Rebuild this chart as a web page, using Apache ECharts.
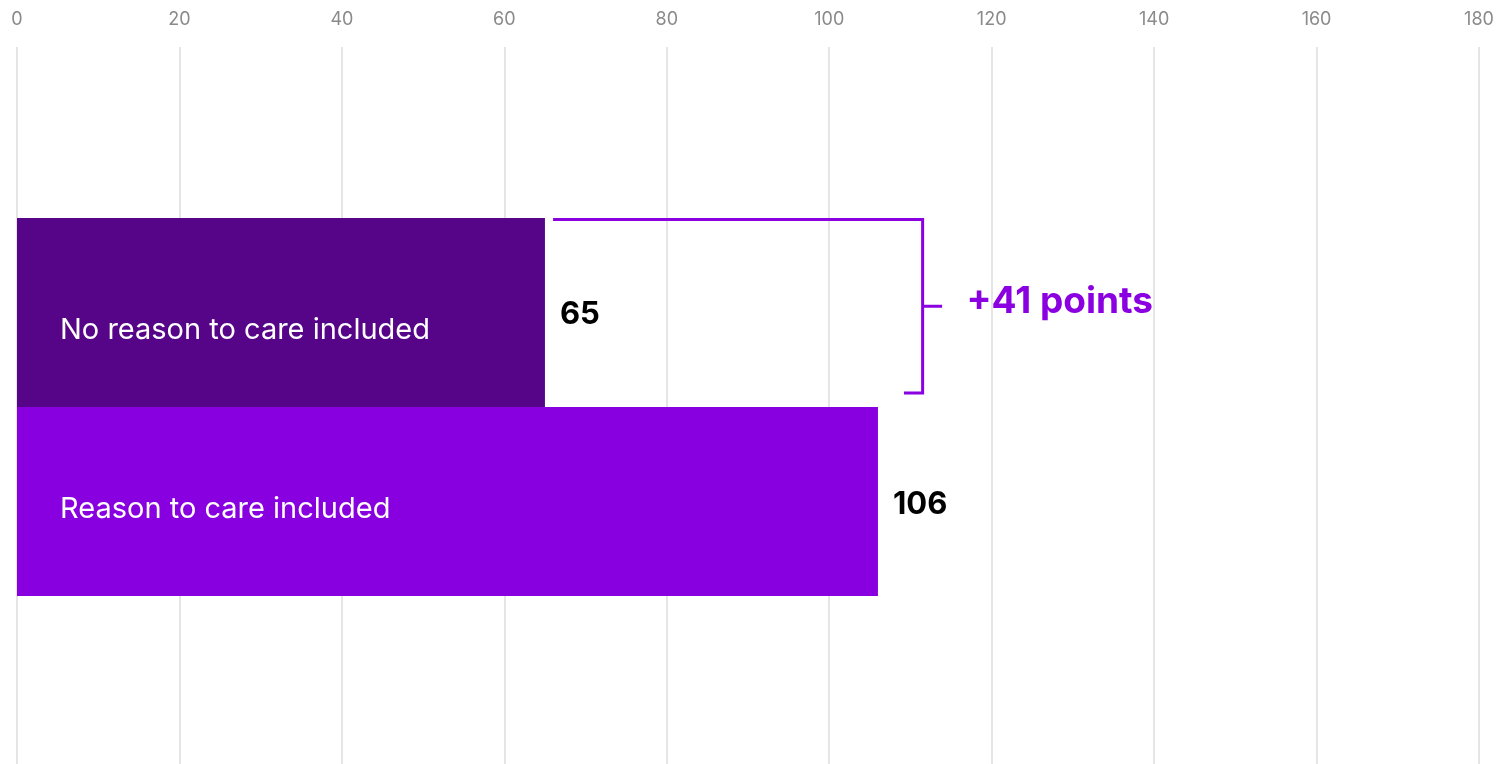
<!DOCTYPE html>
<html>
<head>
<meta charset="utf-8">
<script src="https://cdn.jsdelivr.net/npm/echarts@6/dist/echarts.min.js"></script>
<style>
html,body{margin:0;padding:0;background:#fff;}
#chart{width:1499px;height:764px;}
</style>
</head>
<body>
<div id="chart"></div>
<script>
const categories = ['No reason to care included', 'Reason to care included'];
const values = [65, 106];
const xTicks = [0, 20, 40, 60, 80, 100, 120, 140, 160, 180];
const barColors = ['#560488', '#8800E0'];
const accent = '#8A00E0';
const FONT = 'Inter, "Noto Sans", sans-serif';

const chart = echarts.init(document.getElementById('chart'));
const labelOffsets = [18, 8];
const valueOffsets = [2, 3];

const yCat = {
  type: 'category',
  data: ['group'],
  show: false,
  inverse: true
};

const option = {
  animation: false,
  backgroundColor: '#fff',
  grid: { left: 17, right: 20, top: 47, bottom: -3, containLabel: false, outerBoundsMode: 'none' },
  xAxis: {
    type: 'value',
    position: 'top',
    min: xTicks[0],
    max: xTicks[xTicks.length - 1],
    interval: xTicks[1] - xTicks[0],
    axisLine: { show: false },
    axisTick: { show: false },
    axisLabel: { color: '#8a8a8a', fontSize: 18, fontFamily: FONT, margin: 18 },
    splitLine: { show: true, lineStyle: { color: '#dcdcdc', width: 1.5 } }
  },
  yAxis: [Object.assign({}, yCat), Object.assign({}, yCat)],
  series: categories.map((name, i) => ({
    type: 'bar',
    name: name,
    yAxisIndex: 0,
    data: [values[i]],
    barWidth: 189,
    barGap: '0%',
    itemStyle: { color: barColors[i] },
    label: {
      show: true,
      position: 'insideLeft',
      distance: 43,
      offset: [0, labelOffsets[i]],
      formatter: name,
      color: '#fff',
      fontSize: 29,
      fontFamily: FONT,
      fontWeight: 400
    },
    z: 2
  })).concat(categories.map((name, i) => ({
    type: 'bar',
    name: name + ' value',
    yAxisIndex: 1,
    data: [values[i]],
    barWidth: 189,
    barGap: '0%',
    itemStyle: { color: 'rgba(0,0,0,0)' },
    label: {
      show: true,
      position: 'right',
      distance: 15,
      offset: [0, valueOffsets[i]],
      color: '#000',
      fontSize: 31,
      fontFamily: FONT,
      fontWeight: 700
    },
    silent: true,
    z: 3
  })))
};
chart.setOption(option);

function drawBracket() {
  const l0 = chart.getModel().getSeriesByIndex(0).getData().getItemLayout(0);
  const yTop = Math.min(l0.y, l0.y + l0.height) + 1.5;
  const yBot = Math.max(l0.y, l0.y + l0.height) - 14;
  const yMid = (yTop + yBot) / 2;
  const px = v => chart.convertToPixel({ xAxisIndex: 0 }, v);
  const xStart = px(values[0] + 1);
  const xV = px(values[1] + 5.5);
  const xBotStart = px(values[1] + 3.2);
  const xTick = px(values[1] + 7.9);
  const xText = px(values[1] + 10.9);
  const ls = { stroke: accent, lineWidth: 3, fill: null };
  chart.setOption({
    graphic: [
      { type: 'polyline', shape: { points: [[xStart, yTop], [xV, yTop], [xV, yBot], [xBotStart, yBot]] }, style: ls, z: 10 },
      { type: 'line', shape: { x1: xV, y1: yMid, x2: xTick, y2: yMid }, style: ls, z: 10 },
      { type: 'text', x: xText, y: yMid - 4, style: { text: '+' + (values[1] - values[0]) + ' points', fill: accent, font: '700 37px ' + FONT, textVerticalAlign: 'middle', textAlign: 'left' }, z: 10 }
    ]
  });
}
drawBracket();
</script>
</body>
</html>
